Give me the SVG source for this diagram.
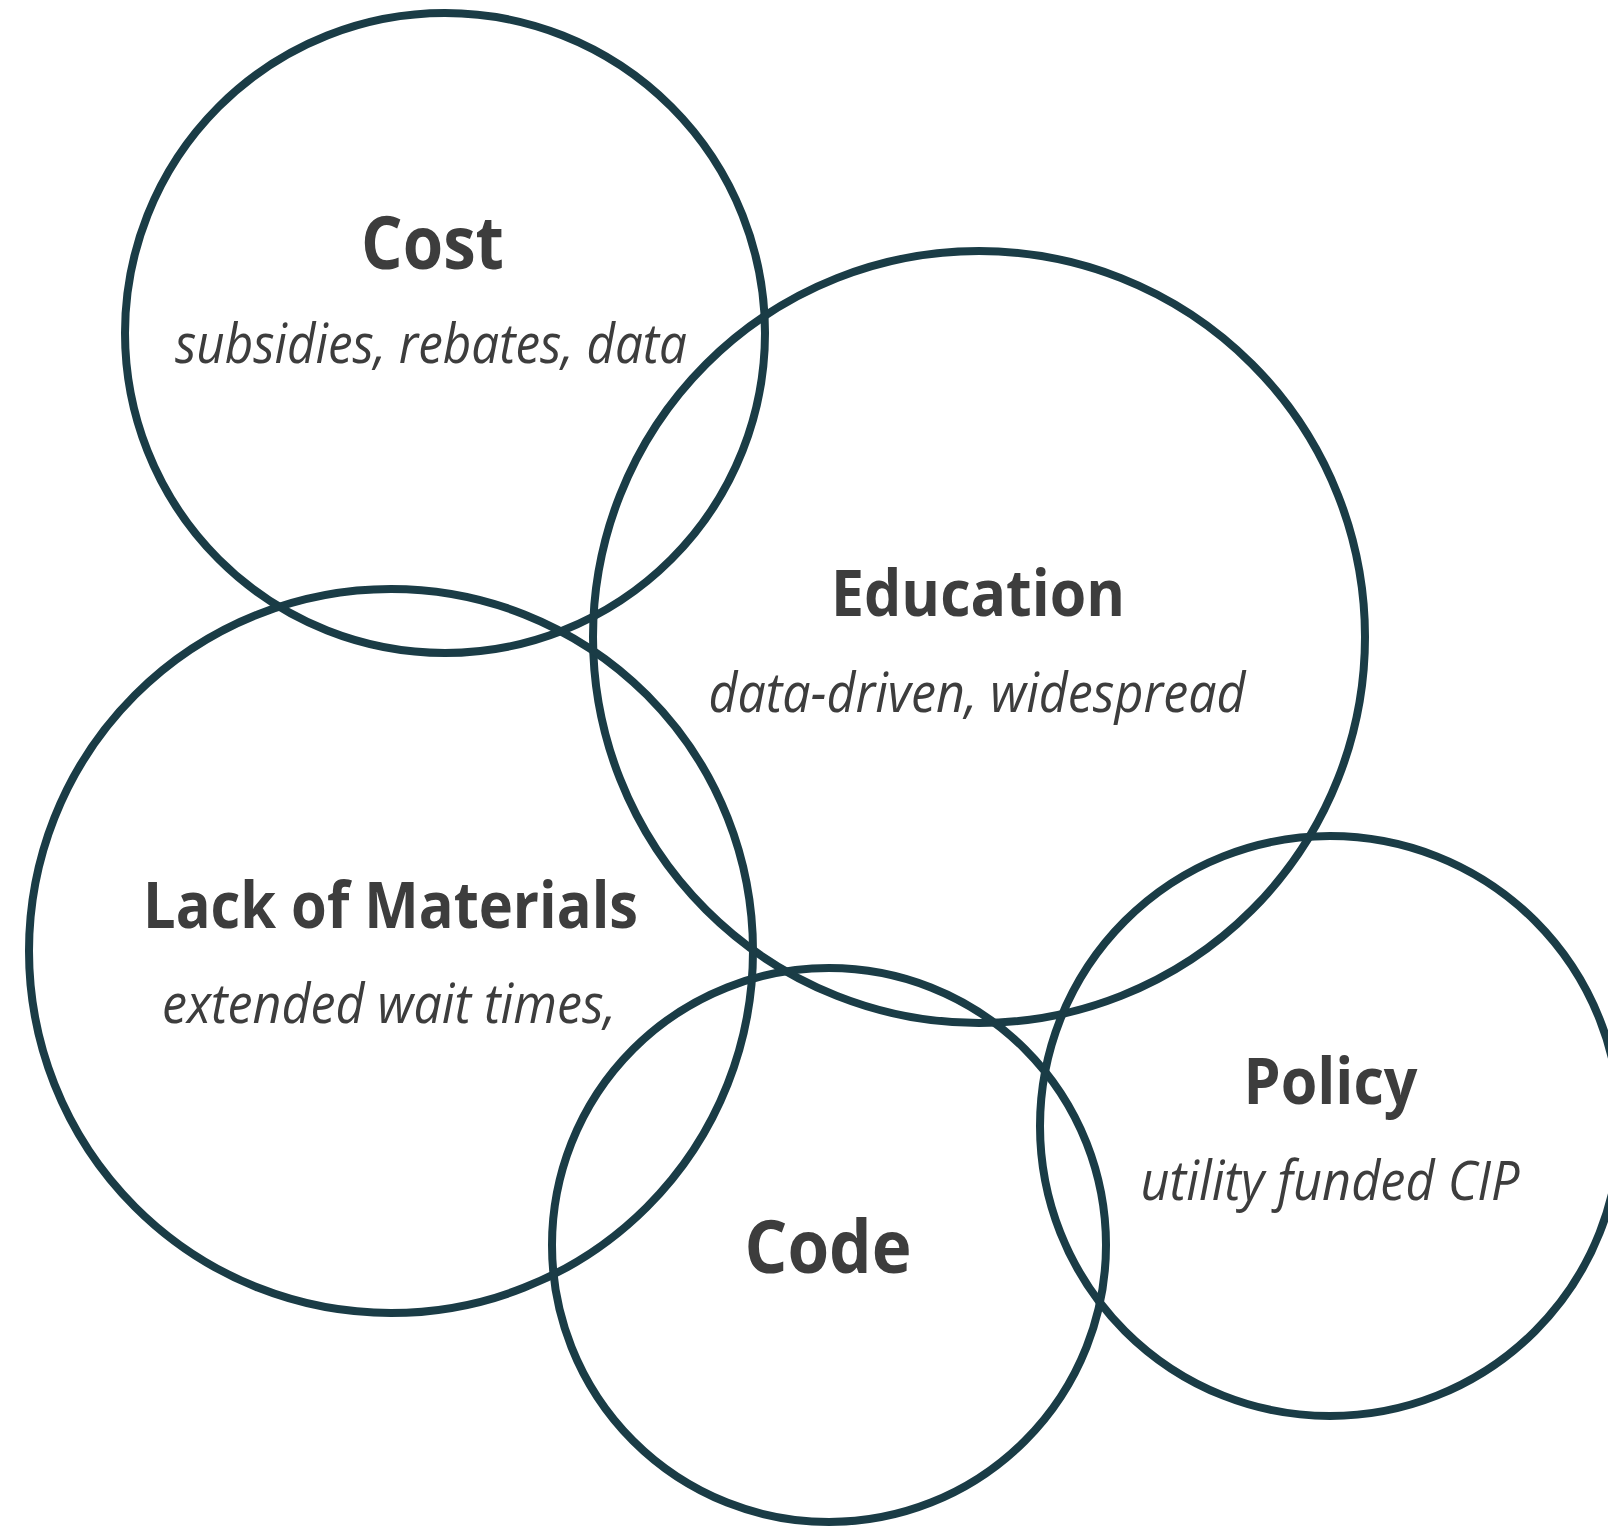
<svg xmlns="http://www.w3.org/2000/svg" width="1608" height="1527" viewBox="0 0 1608 1527">
<style>
.ring{fill:none;stroke:#1a3c46;stroke-width:8}
.title{font-family:"Open Sans","Noto Sans",sans-serif;font-weight:bold;fill:#3d3d3d;text-anchor:middle}
.big{font-size:73px}
.mid{font-size:64px}
.sub{font-family:"Open Sans","Noto Sans",sans-serif;font-style:italic;font-size:55px;fill:#3d3d3d;text-anchor:middle}
</style>
<rect width="1608" height="1527" fill="#ffffff"/>
<g id="cost">
<circle class="ring" cx="445" cy="333" r="320"/>
<text class="title big" x="432.5" y="269" textLength="143" lengthAdjust="spacingAndGlyphs">Cost</text>
<text class="sub" x="431" y="363" textLength="512" lengthAdjust="spacingAndGlyphs">subsidies, rebates, data</text>
</g>
<g id="education">
<circle class="ring" cx="979" cy="637" r="386"/>
<text class="title mid" x="978" y="616" textLength="294" lengthAdjust="spacingAndGlyphs">Education</text>
<text class="sub" x="977" y="712" textLength="537" lengthAdjust="spacingAndGlyphs">data-driven, widespread</text>
</g>
<g id="materials">
<circle class="ring" cx="391" cy="951" r="362"/>
<text class="title mid" x="390.5" y="928" textLength="495" lengthAdjust="spacingAndGlyphs">Lack of Materials</text>
<text class="sub" x="389" y="1023" textLength="454" lengthAdjust="spacingAndGlyphs">extended wait times,</text>
</g>
<g id="code">
<circle class="ring" cx="829" cy="1245" r="277"/>
<text class="title big" x="828" y="1273" textLength="167" lengthAdjust="spacingAndGlyphs">Code</text>
</g>
<g id="policy">
<circle class="ring" cx="1330" cy="1126" r="290"/>
<text class="title mid" x="1330.5" y="1103.5" textLength="174" lengthAdjust="spacingAndGlyphs">Policy</text>
<text class="sub" x="1330" y="1200" textLength="379" lengthAdjust="spacingAndGlyphs">utility funded CIP</text>
</g>
<g id="connectors"></g>
</svg>
